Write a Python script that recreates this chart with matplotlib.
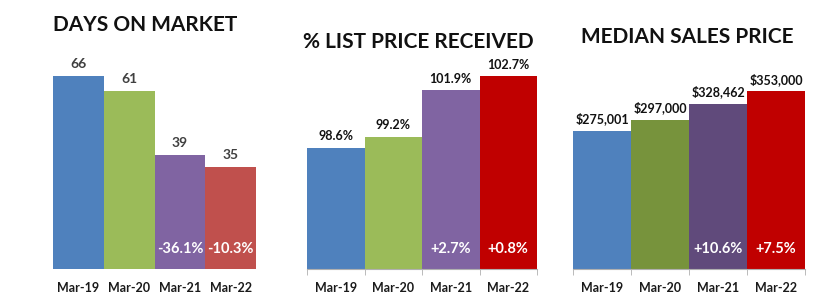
import numpy as np
import matplotlib
matplotlib.use('Agg')
import matplotlib.pyplot as plt

plt.rcParams['font.family'] = ['Lato', 'DejaVu Sans']

months = ['Mar-19', 'Mar-20', 'Mar-21', 'Mar-22']

days = [66, 61, 39, 35]
days_chg = ['', '', '-36.1%', '-10.3%']

list_pct = [98.6, 99.2, 101.9, 102.7]
list_chg = ['', '', '+2.7%', '+0.8%']

price = [275001, 297000, 328462, 353000]
price_chg = ['', '', '+10.6%', '+7.5%']

W, H = 826, 300
fig = plt.figure(figsize=(W / 100, H / 100), dpi=100)


def px_axes(left, right, top, bottom):
    return fig.add_axes([left / W, 1 - bottom / H, (right - left) / W, (bottom - top) / H])


def panel(ax, vals, labels, chg, colors, ylim, lab_color, lab_size, ticks):
    x = np.arange(len(vals))
    heights = [v - ylim[0] for v in vals]
    ax.bar(x, heights, width=1.0, color=colors, bottom=ylim[0])
    ax.set_xlim(-0.5, len(vals) - 0.5)
    ax.set_ylim(*ylim)
    for s in ['top', 'right', 'left']:
        ax.spines[s].set_visible(False)
    ax.set_yticks([])
    ax.set_xticks(x)
    ax.set_xticklabels(months, fontsize=9, fontweight='bold', color='#1a1a1a')
    ax.tick_params(axis='x', length=0, pad=9)
    if ticks:
        ax.spines['bottom'].set_color('#b0b0b0')
        ax.set_xticks(np.arange(len(vals) + 1) - 0.5, minor=True)
        ax.tick_params(axis='x', which='minor', length=4, color='#b0b0b0')
    else:
        ax.spines['bottom'].set_visible(False)
    span = ylim[1] - ylim[0]
    for xi, v, lab, c in zip(x, vals, labels, chg):
        ax.text(xi, v + span * 0.025, lab, ha='center', va='bottom', fontsize=lab_size,
                fontweight='bold', color=lab_color)
        if c:
            ax.text(xi, ylim[0] + span * 0.087, c, ha='center', va='center', fontsize=10.5,
                    fontweight='bold', color='white')


ax1 = px_axes(53, 256, 40, 269)
panel(ax1, days, [str(v) for v in days], days_chg,
      ['#4F81BD', '#9BBB59', '#8064A2', '#C0504D'], (0, 78.4), '#404040', 10, False)

ax2 = px_axes(307, 537, 40, 269)
panel(ax2, list_pct, ['%.1f%%' % v for v in list_pct], list_chg,
      ['#4F81BD', '#9BBB59', '#8064A2', '#C00000'], (91.6, 104.8), '#111111', 9, True)

ax3 = px_axes(573, 805, 40, 269)
panel(ax3, price, ['${:,}'.format(v) for v in price], price_chg,
      ['#4F81BD', '#77933C', '#604A7B', '#C00000'], (0, 455000), '#111111', 9, True)

fig.text(145 / W, 1 - 25 / H, 'DAYS ON MARKET', ha='center', va='center',
         fontsize=15, fontweight='bold', color='#111111')
fig.text(418 / W, 1 - 42 / H, '% LIST PRICE RECEIVED', ha='center', va='center',
         fontsize=15, fontweight='bold', color='#111111')
fig.text(687 / W, 1 - 37 / H, 'MEDIAN SALES PRICE', ha='center', va='center',
         fontsize=15, fontweight='bold', color='#111111')

fig.savefig('out.png', dpi=100)
